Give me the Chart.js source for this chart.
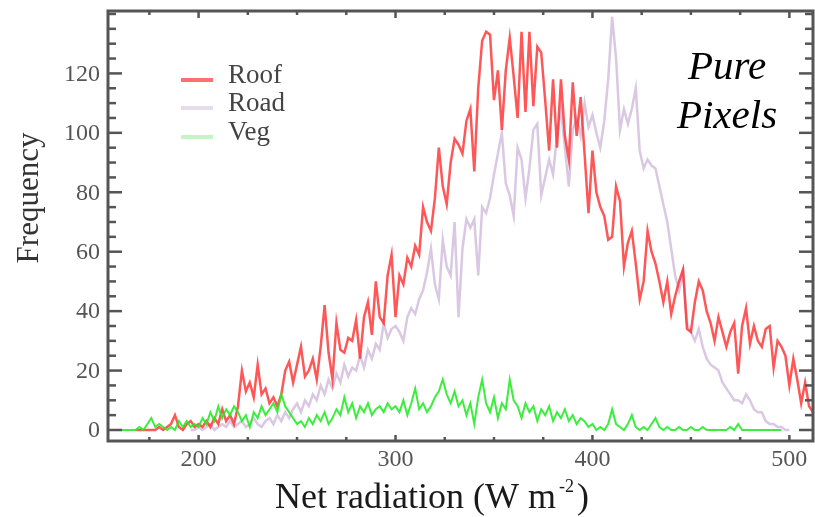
<!DOCTYPE html>
<html>
<head>
<meta charset="utf-8">
<script src="https://cdn.jsdelivr.net/npm/chart.js@4"></script>
<style>
  html, body { margin: 0; padding: 0; background: #fff; }
  #caja { width: 815px; height: 517px; position: relative; }
</style>
</head>
<body>
<div id="caja"><canvas id="grafico"></canvas></div>
<script>
// Bins de radiación neta (W m-2)
const binInicio = 156;
const binAncho = 2;

// Frecuencias, una por bin
const roof = [
  null,null,null,null,null,null,0,0,0,0,
  0,0,1,0,1,2,5,1,0,2,
  3,1,2,1,3,1,4,2,7,3,
  5,2,8,20,13,16,11,22,12,14,
  9,11,8,12,20,23,16,22,28,18,
  20,24,17,28,42,26,17,36,27,26,
  31,30,37,24,38,43,32,50,38,36,
  52,59,38,52,49,58,55,62,59,75,
  70,67,78,95,82,76,90,98,96,93,
  104,108,87,115,131,134,133,111,121,101,
  121,132,119,105,134,107,134,109,129,127,
  111,94,118,95,118,99,91,117,99,112,
  93,73,94,80,75,72,64,65,82,77,
  55,63,67,56,44,50,67,60,56,50,
  43,50,39,45,50,54,34,33,43,50,
  47,40,36,30,38,33,28,33,36,19,
  35,41,29,35,30,28,34,35,21,30,
  28,25,15,24,17,9,16,8,6
];
const road = [
  null,null,null,null,null,null,null,null,null,null,
  null,null,null,null,null,null,null,null,null,null,
  0,0,1,0,1,2,0,1,2,1,
  3,1,2,3,1,2,4,2,1,3,
  4,2,5,3,6,4,7,9,6,10,
  8,12,10,15,12,17,14,19,16,22,
  18,21,20,25,21,27,24,29,27,36,
  31,34,35,33,30,38,41,39,44,47,
  53,61,49,44,64,55,52,70,38,61,
  71,68,71,52,75,73,78,86,93,100,
  83,79,72,95,91,78,88,101,103,79,
  85,91,86,99,108,95,82,101,105,99,
  110,102,106,100,95,104,118,139,125,101,
  108,103,108,115,94,88,91,89,88,82,
  76,70,61,52,47,53,36,33,30,34,
  28,24,22,21,20,16,14,12,10,10,
  9,12,10,7,6,6,3,2,2,1,
  1,0,0,null,null,null,null,null,null
];
const veg = [
  0,0,0,0,0,0,0,1,0,2,
  4,1,2,1,0,1,0,3,1,3,
  1,2,1,4,2,6,3,8,4,7,
  5,8,6,3,5,1,6,4,8,5,
  7,9,6,12,8,6,4,2,3,1,
  4,2,5,3,6,2,4,7,5,11,
  6,9,4,8,6,9,5,7,8,6,
  9,7,8,6,10,5,9,14,7,9,
  6,8,11,13,17,12,9,13,8,10,
  5,9,2,11,17,9,6,11,4,9,
  7,17,10,8,4,9,6,8,3,7,
  5,8,3,6,4,7,3,5,2,4,
  3,1,2,0,1,0,2,7,2,1,
  0,2,5,1,0,1,0,2,4,1,
  0,1,0,0,1,0,0,1,0,0,
  1,0,0,0,0,0,0,1,0,2,
  0,0,0,0,0,0,0,0,0,0,
  0,null,null,null,null,null,null,null,null
];

// Marcas de los ejes
const xMayores = [200, 300, 400, 500];
const xMenores = [175, 225, 250, 275, 325, 350, 375, 425, 450, 475];
const yMayores = [0, 20, 40, 60, 80, 100, 120];
const yMenores = [5, 10, 15, 25, 30, 35, 45, 50, 55, 65, 70, 75, 85, 90, 95, 105, 110, 115, 125, 130, 135, 140];

const series = ['Roof', 'Road', 'Veg'];
const coloresLinea = ['rgba(255,45,45,0.8)', 'rgba(212,190,222,0.85)', 'rgba(40,235,40,0.9)'];
const coloresLeyenda = ['#ff7070', '#e6dcec', '#c4f4c4'];

function aPuntos(valores) {
  return valores.map((v, i) => ({ x: binInicio + i * binAncho, y: v }));
}

// Marco, marcas, etiquetas, títulos y leyenda
const marcoPlugin = {
  id: 'marco',
  afterDatasetsDraw(chart) {
    const ctx = chart.ctx;
    const a = chart.chartArea;
    const x = chart.scales.x;
    const y = chart.scales.y;
    const serif = '"Liberation Serif", "Times New Roman", serif';

    function linea(x1, y1, x2, y2) {
      ctx.beginPath();
      ctx.moveTo(x1, y1);
      ctx.lineTo(x2, y2);
      ctx.stroke();
    }

    ctx.save();
    ctx.strokeStyle = '#555';
    ctx.lineWidth = 3;
    ctx.strokeRect(a.left, a.top, a.right - a.left, a.bottom - a.top);

    ctx.lineWidth = 2.5;
    yMayores.forEach(v => {
      const py = y.getPixelForValue(v);
      linea(a.left, py, a.left + 14, py);
      linea(a.right, py, a.right - 14, py);
    });
    yMenores.forEach(v => {
      const py = y.getPixelForValue(v);
      if (py <= a.top + 2) return;
      linea(a.left, py, a.left + 8, py);
      linea(a.right, py, a.right - 8, py);
    });
    xMayores.forEach(v => {
      const px = x.getPixelForValue(v);
      linea(px, a.bottom, px, a.bottom - 6);
      linea(px, a.top, px, a.top + 7);
    });
    xMenores.forEach(v => {
      const px = x.getPixelForValue(v);
      linea(px, a.bottom, px, a.bottom - 4);
      linea(px, a.top, px, a.top + 4);
    });

    // Etiquetas de los ejes
    ctx.fillStyle = '#555';
    ctx.font = '24px ' + serif;
    ctx.textAlign = 'right';
    ctx.textBaseline = 'middle';
    yMayores.forEach(v => ctx.fillText(String(v), a.left - 8, y.getPixelForValue(v) + 1));
    ctx.textAlign = 'center';
    xMayores.forEach(v => ctx.fillText(String(v), x.getPixelForValue(v), a.bottom + 19));

    // Título eje X con superíndice
    ctx.fillStyle = '#1a1a1a';
    ctx.textAlign = 'left';
    ctx.textBaseline = 'alphabetic';
    const base = 'Net radiation (W m';
    const sup = '-2';
    const cierre = ')';
    ctx.font = '36px ' + serif;
    const wBase = ctx.measureText(base).width;
    const wCierre = ctx.measureText(cierre).width;
    ctx.font = '18px ' + serif;
    const wSup = ctx.measureText(sup).width + 6;
    const total = wBase + wSup + wCierre;
    let cx = 432 - total / 2;
    ctx.font = '36px ' + serif;
    ctx.fillText(base, cx, 508);
    ctx.font = '18px ' + serif;
    ctx.fillText(sup, cx + wBase + 3, 492);
    ctx.font = '36px ' + serif;
    ctx.fillText(cierre, cx + wBase + wSup, 508);

    // Título eje Y
    ctx.save();
    ctx.translate(30, 198);
    ctx.rotate(-Math.PI / 2);
    ctx.textAlign = 'center';
    ctx.textBaseline = 'middle';
    ctx.fillStyle = '#333';
    ctx.font = '31px ' + serif;
    ctx.fillText('Frequency', 0, 0);
    ctx.restore();

    // Texto "Pure Pixels"
    ctx.fillStyle = '#000';
    ctx.textAlign = 'center';
    ctx.font = 'italic 41px ' + serif;
    ctx.fillText('Pure', 727, 79);
    ctx.fillText('Pixels', 727, 128);

    // Leyenda
    const yLeyenda = [80, 108, 137];
    series.forEach((nombre, i) => {
      ctx.strokeStyle = coloresLeyenda[i];
      ctx.lineWidth = 4;
      linea(181, yLeyenda[i], 213, yLeyenda[i]);
      ctx.fillStyle = '#444';
      ctx.font = '27px ' + serif;
      ctx.textAlign = 'left';
      ctx.textBaseline = 'middle';
      ctx.fillText(nombre, 228, yLeyenda[i] - 4);
    });
    ctx.restore();
  }
};

const ctx = document.getElementById('grafico').getContext('2d');
const grafico = new Chart(ctx, {
  type: 'line',
  data: {
    datasets: [
      { label: 'Veg', data: aPuntos(veg), borderColor: coloresLinea[2], borderWidth: 2, order: 0 },
      { label: 'Roof', data: aPuntos(roof), borderColor: coloresLinea[0], borderWidth: 2.5, order: 1 },
      { label: 'Road', data: aPuntos(road), borderColor: coloresLinea[1], borderWidth: 2.5, order: 2 }
    ]
  },
  options: {
    responsive: true,
    maintainAspectRatio: false,
    animation: false,
    layout: { padding: { left: 108, right: 2, top: 11, bottom: 76 } },
    elements: { point: { radius: 0 }, line: { tension: 0 } },
    plugins: { legend: { display: false }, tooltip: { enabled: false } },
    scales: {
      x: { type: 'linear', min: 154, max: 512, display: false },
      y: { type: 'linear', min: -3.7, max: 141, display: false }
    }
  },
  plugins: [marcoPlugin]
});
</script>
</body>
</html>
